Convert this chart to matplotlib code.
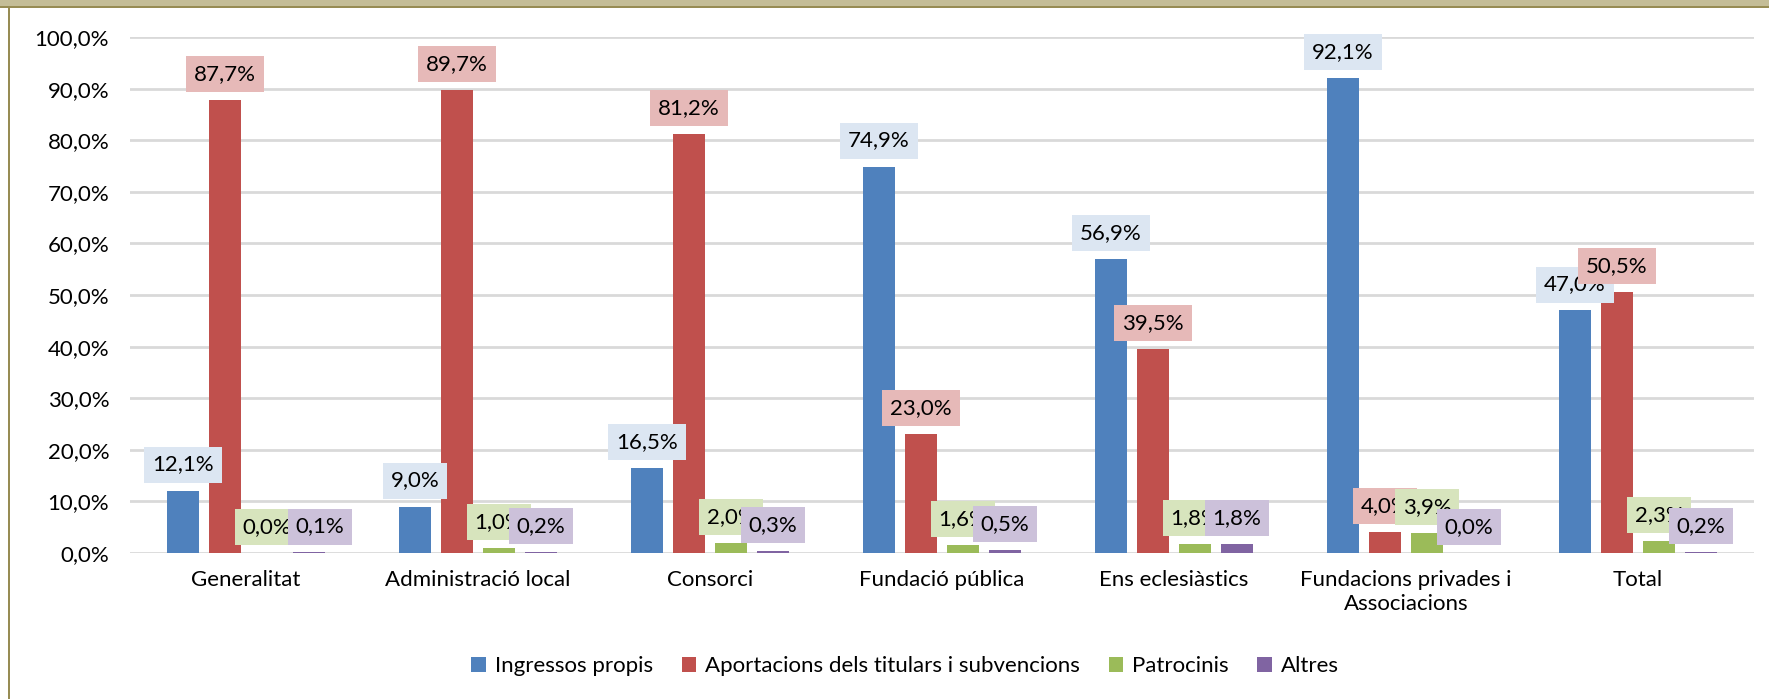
import matplotlib
matplotlib.use("Agg")
import matplotlib.pyplot as plt
from matplotlib.patches import Rectangle
import numpy as np

plt.rcParams['font.family'] = ['Lato', 'DejaVu Sans']

categories = ["Generalitat", "Administració local", "Consorci", "Fundació pública",
              "Ens eclesiàstics", "Fundacions privades i\nAssociacions", "Total"]
series_names = ["Ingressos propis", "Aportacions dels titulars i subvencions",
                "Patrocinis", "Altres"]
ingressos = [12.1, 9.0, 16.5, 74.9, 56.9, 92.1, 47.0]
aportacions = [87.7, 89.7, 81.2, 23.0, 39.5, 4.0, 50.5]
patrocinis = [0.0, 1.0, 2.0, 1.6, 1.8, 3.9, 2.3]
altres = [0.1, 0.2, 0.3, 0.5, 1.8, 0.0, 0.2]
y_ticks = [0, 10, 20, 30, 40, 50, 60, 70, 80, 90, 100]

bar_colors = ["#4F81BD", "#C0504D", "#9BBB59", "#8064A2"]
box_colors = ["#DCE6F2", "#E6B9B8", "#D7E4BD", "#CCC1DA"]

# excel nudged this label sideways (series, category) -> points
label_nudge = {(3, 0): 8}

W, H = 1769, 699
fig = plt.figure(figsize=(W / 100, H / 100), dpi=100)
ax = fig.add_axes([130 / W, 1 - 553 / H, (1754 - 130) / W, (553 - 37) / H])

def pct(v):
    return f"{v:.1f}%".replace(".", ",")

x = np.arange(len(categories))
step = 0.181
width = 0.142
fs = 16
all_series = [ingressos, aportacions, patrocinis, altres]
for i, vals in enumerate(all_series):
    pos = x + (i - 1.5) * step
    ax.bar(pos, vals, width, color=bar_colors[i], label=series_names[i], zorder=2)
    for j, (px_, v) in enumerate(zip(pos, vals)):
        dx = label_nudge.get((i, j), 0)
        ax.annotate(pct(v), (px_, v), xytext=(dx, 11.5), textcoords="offset points",
                    ha="center", va="bottom", fontsize=fs, zorder=3 + i,
                    bbox=dict(boxstyle="square,pad=0.36", fc=box_colors[i], ec="none"))

ax.set_xlim(-0.5, len(categories) - 0.5)
ax.set_ylim(0, 100)
ax.set_yticks(y_ticks)
ax.set_yticklabels([pct(t) for t in y_ticks], fontsize=fs)
ax.set_xticks(x)
ax.set_xticklabels(categories, fontsize=fs, linespacing=1.3)
ax.tick_params(axis="y", length=0, pad=15)
ax.tick_params(axis="x", length=0, pad=12)
ax.grid(axis="y", color="#D9D9D9", linewidth=2, zorder=0)
ax.set_axisbelow(True)
for s in ax.spines.values():
    s.set_visible(False)

fig.legend(loc="center", bbox_to_anchor=(905 / W, 1 - 666 / H), ncol=4, frameon=False,
           fontsize=fs, handlelength=0.65, handleheight=0.65, handletextpad=0.4,
           columnspacing=1.3)

# frame of the original screenshot
fig.add_artist(Rectangle((0, 1 - 6 / H), 1, 6 / H, transform=fig.transFigure,
                         fc="#C4BD97", ec="none"))
fig.add_artist(Rectangle((0, 1 - 8 / H), 1, 2 / H, transform=fig.transFigure,
                         fc="#978C54", ec="none"))
fig.add_artist(Rectangle((8 / W, 0), 2 / W, 1 - 8 / H, transform=fig.transFigure,
                         fc="#978C54", ec="none"))

fig.savefig("out.png", dpi=100)
